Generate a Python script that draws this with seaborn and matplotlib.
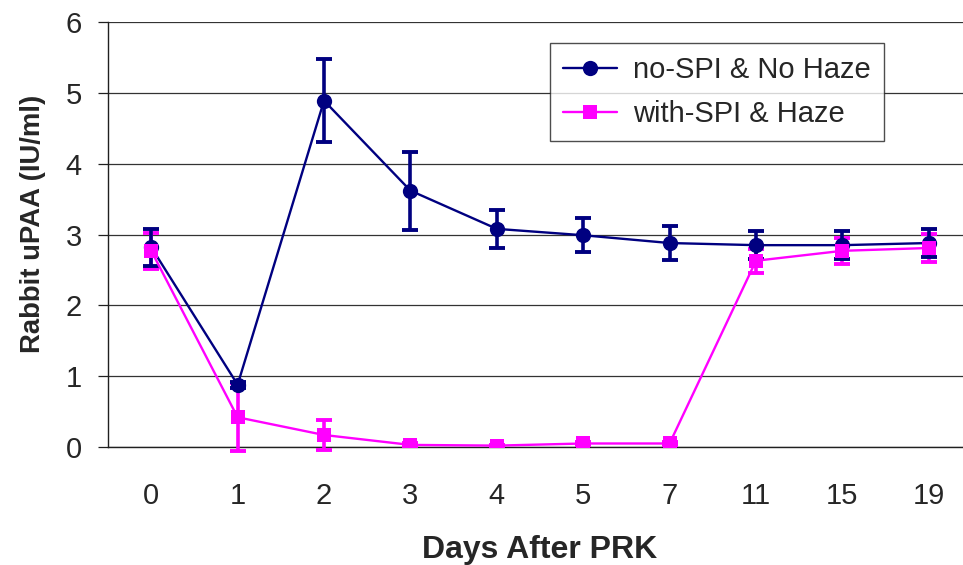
import matplotlib
matplotlib.use("Agg")
import matplotlib.pyplot as plt
import seaborn as sns
import pandas as pd
import numpy as np

# Sampling days after PRK (categorical axis)
days = ["0", "1", "2", "3", "4", "5", "7", "11", "15", "19"]

# Rabbit uPAA (IU/ml), mean and error per day
no_spi_mean = [2.82, 0.88, 4.89, 3.62, 3.08, 2.99, 2.88, 2.85, 2.85, 2.88]
no_spi_err = [0.26, 0.04, 0.59, 0.55, 0.27, 0.24, 0.24, 0.20, 0.20, 0.20]
with_spi_mean = [2.77, 0.42, 0.17, 0.03, 0.02, 0.05, 0.05, 2.63, 2.77, 2.81]
with_spi_err = [0.25, 0.48, 0.21, 0.02, 0.01, 0.02, 0.02, 0.17, 0.18, 0.20]

series_names = ["no-SPI & No Haze", "with-SPI & Haze"]
series_colors = ["#000080", "#FF00FF"]

pos = np.arange(len(days))
df = pd.DataFrame({
    "pos": np.concatenate([pos, pos]),
    "value": no_spi_mean + with_spi_mean,
    "group": [series_names[0]] * len(days) + [series_names[1]] * len(days),
})

sns.set_style("white")
plt.rcParams["font.family"] = ["Liberation Sans", "DejaVu Sans"]

fig = plt.figure(figsize=(9.63, 5.65), dpi=100)
ax = fig.add_axes([0.1122, 0.2088, 0.8971, 0.7522])

# Error bars first so the markers sit on top
for mean, err, col, z in [(with_spi_mean, with_spi_err, series_colors[1], 3),
                          (no_spi_mean, no_spi_err, series_colors[0], 4)]:
    eb = ax.errorbar(pos, mean, yerr=err, fmt="none", ecolor=col,
                     elinewidth=2.6, capsize=6, capthick=2.8, zorder=z)
    for artist in eb.lines[1] + eb.lines[2]:
        artist.set_clip_on(False)

sns.lineplot(data=df[df.group == series_names[0]], x="pos", y="value", ax=ax,
             color=series_colors[0], marker="o", markersize=11, markeredgewidth=0,
             linewidth=1.7, label=series_names[0], zorder=5)
sns.lineplot(data=df[df.group == series_names[1]], x="pos", y="value", ax=ax,
             color=series_colors[1], marker="s", markersize=9.5, markeredgewidth=0,
             linewidth=1.7, label=series_names[1], zorder=6)

ax.set_xlim(-0.5, len(days) - 0.5)
ax.set_ylim(0, 6)
ax.set_yticks(range(0, 7))
ax.set_xticks(pos)
ax.set_xticklabels(days)
ax.set_xticks(np.arange(-0.5, len(days), 1.0), minor=True)
ax.tick_params(axis="x", which="major", length=0, pad=25, labelsize=21)
ax.tick_params(axis="x", which="minor", length=7, width=0.9, color="#202020", direction="out")
ax.tick_params(axis="y", which="major", length=7, width=0.9, color="#202020", direction="out",
               pad=12, labelsize=21, left=True)

ax.yaxis.grid(True, color="#333333", linewidth=0.9)
ax.xaxis.grid(False)
ax.set_axisbelow(True)
for side in ["top", "right"]:
    ax.spines[side].set_visible(False)
for side in ["left", "bottom"]:
    ax.spines[side].set_color("#202020")
    ax.spines[side].set_linewidth(1.0)

ax.set_xlabel("Days After PRK", fontsize=23, fontweight="bold", labelpad=18)
ax.set_ylabel("Rabbit uPAA (IU/ml)", fontsize=19.8, fontweight="bold", labelpad=14)
ax.yaxis.label.set_y(0.524)

leg = ax.legend(loc="upper left", bbox_to_anchor=(0.5116, 0.9506), borderaxespad=0,
                fontsize=21, frameon=True, fancybox=False, shadow=False,
                handlelength=1.85, handletextpad=0.55, borderpad=0.45, labelspacing=0.55)
leg.get_frame().set_edgecolor("#202020")
leg.get_frame().set_linewidth(1.0)

fig.savefig("out.png", dpi=100)
